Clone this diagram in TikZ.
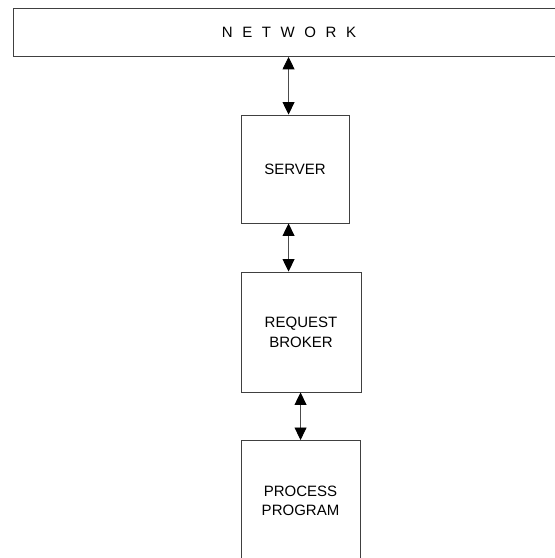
\documentclass[tikz,border=0pt]{standalone}
\usepackage{fontspec}
\setmainfont{Liberation Sans}
\usetikzlibrary{arrows.meta}

\begin{document}
\begin{tikzpicture}[x=1pt, y=-1pt,
  block/.style={draw=black!75, line width=0.9pt, fill=white, inner sep=0pt,
    font=\fontsize{15}{19.5}\selectfont, align=center},
  oneline/.style={text height=10.7pt, text depth=0pt},
  twoline/.style={text height=30.2pt, text depth=0pt},
  link/.style={draw=black!70, line width=0.9pt,
    {Triangle[width=12pt,length=12.5pt,color=black,fill=black]}-{Triangle[width=12pt,length=12.5pt,color=black,fill=black]}}]

  \useasboundingbox (0,0) rectangle (555,558);

  % network bar, running off the right edge
  \node (net) [block, anchor=north west, minimum width=560pt, minimum height=48.5pt] at (12.7,7.5) {};
  \node (netlabel) [font=\fontsize{15}{18}\selectfont, oneline, inner sep=0pt] at (289,32)
    {N\hspace{9.6pt}E\hspace{9.6pt}T\hspace{9.6pt}W\hspace{9.6pt}O\hspace{9.6pt}R\hspace{9.6pt}K};

  % stacked blocks
  \node (server)  [block, oneline, minimum width=108pt, minimum height=108pt] at (295,169) {SERVER};
  \node (broker)  [block, twoline, minimum width=120pt, minimum height=120pt] at (301,332) {REQUEST\\BROKER};
  \node (process) [block, twoline, minimum width=119pt, minimum height=120pt, anchor=north] at (300.5,440) {PROCESS\\PROGRAM};

  % two-way links
  \draw[link] ([xshift=48pt]server.north west |- net.south) -- ([xshift=48pt]server.north west);
  \draw[link] ([xshift=48pt]server.south west) -- ([xshift=48pt]server.south west |- broker.north);
  \draw[link] ([xshift=60pt]broker.south west) -- ([xshift=60pt]broker.south west |- process.north);
\end{tikzpicture}
\end{document}
